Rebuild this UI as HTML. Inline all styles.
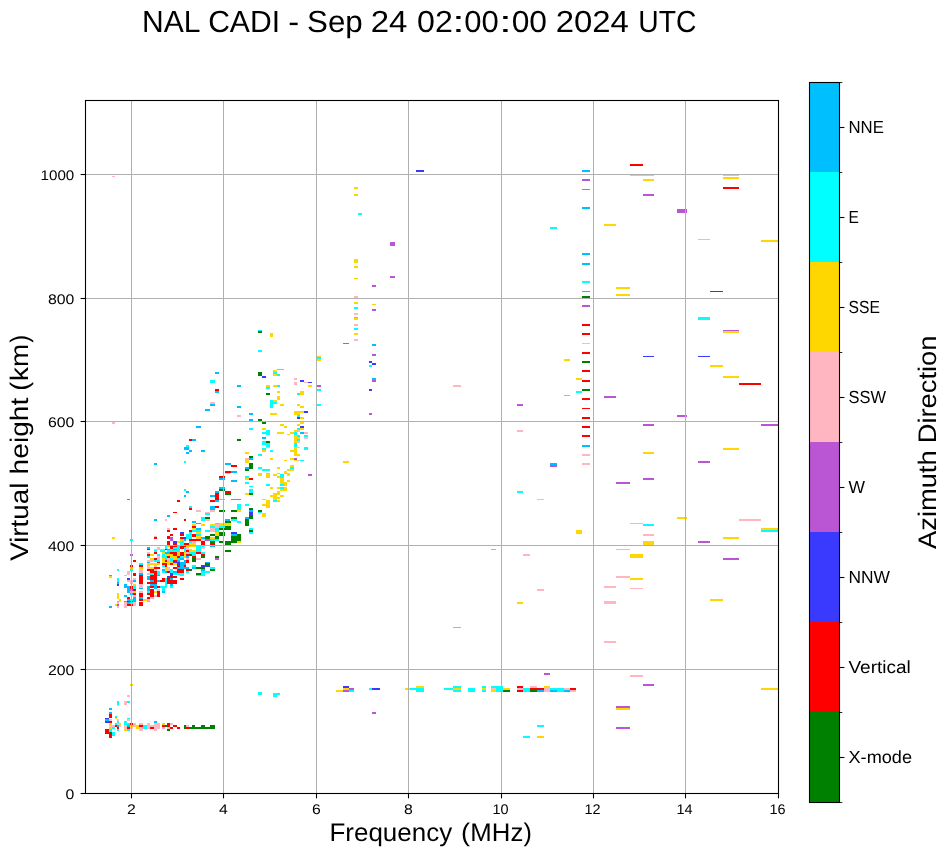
<!DOCTYPE html>
<html><head><meta charset="utf-8"><title>NAL CADI - Sep 24 02:00:00 2024 UTC</title>
<style>
html,body{margin:0;padding:0;background:#fff;}
body{width:951px;height:856px;overflow:hidden;font-family:"Liberation Sans",sans-serif;}
svg{display:block;will-change:transform;}
svg text{font-family:"Liberation Sans",sans-serif;fill:#000;filter:grayscale(1);text-rendering:geometricPrecision;}
</style></head>
<body>
<svg width="951" height="856" viewBox="0 0 951 856">
<rect x="0" y="0" width="951" height="856" fill="#ffffff"/>
<g id="data" shape-rendering="crispEdges">
<rect x="416" y="170" width="8.2" height="2" fill="#3a3aff"/>
<rect x="354" y="187" width="4" height="2" fill="#ffd700"/>
<rect x="354" y="194" width="4" height="2" fill="#ffd700"/>
<rect x="358" y="213" width="4" height="2" fill="#00ffff"/>
<rect x="390" y="242" width="5.2" height="4" fill="#ba55d3"/>
<rect x="354" y="259" width="4" height="4" fill="#ffd700"/>
<rect x="354" y="266" width="4" height="2" fill="#ffd700"/>
<rect x="390" y="276" width="5.2" height="2" fill="#ba55d3"/>
<rect x="354" y="278" width="4" height="1" fill="#ffd700"/>
<rect x="372" y="285" width="4" height="2" fill="#ba55d3"/>
<rect x="354" y="296" width="4" height="2" fill="#ffb6c1"/>
<rect x="354" y="302" width="4" height="2" fill="#ffd700"/>
<rect x="372" y="304" width="4" height="1" fill="#ffd700"/>
<rect x="354" y="307" width="4" height="2" fill="#00ffff"/>
<rect x="372" y="309" width="4" height="2" fill="#ba55d3"/>
<rect x="354" y="313" width="4" height="2" fill="#ffb6c1"/>
<rect x="354" y="317" width="4" height="1" fill="#00ffff"/>
<rect x="354" y="318" width="4" height="2" fill="#ffd700"/>
<rect x="354" y="324" width="4" height="2" fill="#ffb6c1"/>
<rect x="354" y="328" width="4" height="2" fill="#00ffff"/>
<rect x="354" y="333" width="4" height="2" fill="#ffd700"/>
<rect x="354" y="339" width="4" height="2" fill="#ffb6c1"/>
<rect x="343" y="343" width="6" height="1" fill="#ba55d3"/>
<rect x="372" y="344" width="4" height="2" fill="#00bfff"/>
<rect x="372" y="354" width="4" height="2" fill="#ba55d3"/>
<rect x="317" y="356" width="4" height="1" fill="#ffd700"/>
<rect x="317" y="357" width="4" height="2" fill="#00ffff"/>
<rect x="317" y="359" width="4" height="2" fill="#ffd700"/>
<rect x="369" y="361" width="3" height="2" fill="#3a3aff"/>
<rect x="372" y="363" width="4" height="2" fill="#3a3aff"/>
<rect x="369" y="365" width="3" height="2" fill="#00ffff"/>
<rect x="372" y="378" width="4" height="2" fill="#00bfff"/>
<rect x="372" y="380" width="4" height="2" fill="#ba55d3"/>
<rect x="309" y="382" width="3" height="1" fill="#3a3aff"/>
<rect x="309" y="385" width="3" height="2" fill="#ffd700"/>
<rect x="317" y="385" width="4" height="2" fill="#ba55d3"/>
<rect x="453" y="385" width="8" height="2" fill="#ffb6c1"/>
<rect x="317" y="389" width="4" height="2" fill="#00ffff"/>
<rect x="369" y="389" width="3" height="2" fill="#3a3aff"/>
<rect x="317" y="404" width="4" height="2" fill="#00ffff"/>
<rect x="369" y="413" width="3" height="2" fill="#ba55d3"/>
<rect x="343" y="461" width="6" height="2" fill="#ffd700"/>
<rect x="309" y="474" width="3" height="2" fill="#ba55d3"/>
<rect x="453" y="627" width="8" height="1" fill="#00ffff"/>
<rect x="343" y="686" width="6" height="2" fill="#3a3aff"/>
<rect x="343" y="688" width="6" height="2" fill="#ffd700"/>
<rect x="349" y="688" width="5" height="2" fill="#ba55d3"/>
<rect x="336" y="690" width="7" height="2" fill="#ffd700"/>
<rect x="343" y="690" width="6" height="2" fill="#ba55d3"/>
<rect x="349" y="690" width="5" height="2" fill="#00ffff"/>
<rect x="369" y="688" width="3" height="2" fill="#00ffff"/>
<rect x="372" y="688" width="8" height="2" fill="#3a3aff"/>
<rect x="372" y="712" width="4" height="2" fill="#ba55d3"/>
<rect x="405" y="688" width="5" height="2" fill="#ffd700"/>
<rect x="410" y="688" width="6" height="2" fill="#00ffff"/>
<rect x="416" y="686" width="8" height="2" fill="#ffd700"/>
<rect x="416" y="688" width="8" height="4" fill="#00ffff"/>
<rect x="444" y="688" width="9" height="2" fill="#00ffff"/>
<rect x="453" y="686" width="8" height="2" fill="#00ffff"/>
<rect x="453" y="688" width="8" height="2" fill="#ffd700"/>
<rect x="453" y="690" width="8" height="2" fill="#00ffff"/>
<rect x="468" y="688" width="7" height="4" fill="#00ffff"/>
<rect x="482" y="686" width="4" height="2" fill="#00ffff"/>
<rect x="482" y="688" width="4" height="2" fill="#ffd700"/>
<rect x="482" y="690" width="4" height="2" fill="#00ffff"/>
<rect x="517" y="602" width="6" height="2" fill="#ffd700"/>
<rect x="604.1" y="601" width="12" height="3" fill="#ffb6c1"/>
<rect x="604.1" y="641" width="12" height="2" fill="#ffb6c1"/>
<rect x="544" y="673" width="6" height="2" fill="#ba55d3"/>
<rect x="630" y="675" width="13" height="2" fill="#ffb6c1"/>
<rect x="643" y="684" width="11" height="2" fill="#ba55d3"/>
<rect x="491" y="686" width="12" height="6" fill="#00ffff"/>
<rect x="491" y="688" width="5" height="2" fill="#ffb6c1"/>
<rect x="491" y="690" width="5" height="2" fill="#ffd700"/>
<rect x="503" y="688" width="7" height="2" fill="#ffd700"/>
<rect x="503" y="690" width="7" height="2" fill="#008000"/>
<rect x="517" y="686" width="6" height="2" fill="#ff0000"/>
<rect x="517" y="688" width="6" height="2" fill="#ffb6c1"/>
<rect x="517" y="690" width="6" height="2" fill="#ff0000"/>
<rect x="523" y="688" width="7" height="4" fill="#00ffff"/>
<rect x="530" y="686" width="7" height="2" fill="#ffb6c1"/>
<rect x="530" y="688" width="14" height="2" fill="#ff0000"/>
<rect x="530" y="690" width="7" height="2" fill="#008000"/>
<rect x="537" y="690" width="7" height="2" fill="#00bfff"/>
<rect x="544" y="686" width="6" height="2" fill="#ffd700"/>
<rect x="544" y="688" width="6" height="4" fill="#ffb6c1"/>
<rect x="550" y="688" width="14" height="2" fill="#00ffff"/>
<rect x="550" y="690" width="7" height="2" fill="#00bfff"/>
<rect x="557" y="690" width="7" height="2" fill="#00ffff"/>
<rect x="564" y="688" width="6" height="2" fill="#ffb6c1"/>
<rect x="564" y="690" width="6" height="2" fill="#00bfff"/>
<rect x="570" y="688" width="6" height="2" fill="#ff0000"/>
<rect x="570" y="690" width="6" height="2" fill="#ffb6c1"/>
<rect x="616" y="706" width="14" height="2" fill="#ba55d3"/>
<rect x="616" y="708" width="14" height="2" fill="#ffd700"/>
<rect x="537" y="725" width="7" height="2" fill="#00ffff"/>
<rect x="616" y="727" width="14" height="2" fill="#ba55d3"/>
<rect x="523" y="736" width="7" height="2" fill="#00ffff"/>
<rect x="537" y="736" width="7" height="2" fill="#ffd700"/>
<rect x="517" y="430" width="6" height="2" fill="#ffb6c1"/>
<rect x="582" y="435" width="8" height="2" fill="#ff0000"/>
<rect x="582" y="445" width="8" height="2" fill="#00bfff"/>
<rect x="582" y="454" width="8" height="2" fill="#ffb6c1"/>
<rect x="582" y="463" width="8" height="2" fill="#ffb6c1"/>
<rect x="550" y="463" width="7" height="2" fill="#00bfff"/>
<rect x="550" y="465" width="7" height="2" fill="#ba55d3"/>
<rect x="643" y="452" width="11" height="2" fill="#ffd700"/>
<rect x="643" y="478" width="11" height="2" fill="#ba55d3"/>
<rect x="616" y="482" width="14" height="2" fill="#ba55d3"/>
<rect x="517" y="491" width="6" height="2" fill="#00ffff"/>
<rect x="537" y="499" width="7" height="1" fill="#ffb6c1"/>
<rect x="630" y="523" width="13" height="1" fill="#ffd700"/>
<rect x="643" y="524" width="11" height="2" fill="#00ffff"/>
<rect x="576" y="530" width="6" height="4" fill="#ffd700"/>
<rect x="643" y="534" width="11" height="2" fill="#ffb6c1"/>
<rect x="643" y="541" width="11" height="4" fill="#ffd700"/>
<rect x="491" y="549" width="5" height="1" fill="#00ffff"/>
<rect x="616" y="549" width="14" height="1" fill="#ffd700"/>
<rect x="523" y="554" width="7" height="2" fill="#ffb6c1"/>
<rect x="630" y="554" width="13" height="4" fill="#ffd700"/>
<rect x="616" y="576" width="14" height="2" fill="#ffb6c1"/>
<rect x="630" y="578" width="13" height="2" fill="#ffd700"/>
<rect x="604" y="586" width="12" height="2" fill="#ffb6c1"/>
<rect x="630" y="588" width="13" height="1" fill="#ffb6c1"/>
<rect x="537" y="589" width="7" height="2" fill="#ffb6c1"/>
<rect x="582" y="263" width="8" height="2" fill="#00bfff"/>
<rect x="582" y="281" width="8" height="2" fill="#00ffff"/>
<rect x="582" y="291" width="8" height="1" fill="#00bfff"/>
<rect x="582" y="296" width="8" height="2" fill="#008000"/>
<rect x="616" y="287" width="14" height="2" fill="#ffd700"/>
<rect x="616" y="294" width="14" height="2" fill="#ffd700"/>
<rect x="582" y="305" width="8" height="2" fill="#ba55d3"/>
<rect x="582" y="324" width="8" height="2" fill="#ff0000"/>
<rect x="582" y="333" width="8" height="2" fill="#ff0000"/>
<rect x="582" y="343" width="8" height="1" fill="#ffb6c1"/>
<rect x="582" y="352" width="8" height="2" fill="#ff0000"/>
<rect x="643" y="356" width="11" height="1" fill="#3a3aff"/>
<rect x="564" y="359" width="6" height="2" fill="#ffd700"/>
<rect x="582" y="361" width="8" height="2" fill="#008000"/>
<rect x="582" y="370" width="8" height="2" fill="#ff0000"/>
<rect x="576" y="378" width="6" height="2" fill="#ffd700"/>
<rect x="582" y="380" width="8" height="2" fill="#ff0000"/>
<rect x="582" y="389" width="8" height="2" fill="#008000"/>
<rect x="576" y="391" width="6" height="2" fill="#00ffff"/>
<rect x="564" y="395" width="6" height="1" fill="#00ffff"/>
<rect x="604" y="396" width="12" height="2" fill="#ba55d3"/>
<rect x="582" y="398" width="8" height="2" fill="#ff0000"/>
<rect x="517" y="404" width="6" height="2" fill="#ba55d3"/>
<rect x="582" y="408" width="8" height="1" fill="#ff0000"/>
<rect x="582" y="417" width="8" height="2" fill="#ff0000"/>
<rect x="643" y="424" width="11" height="2" fill="#ba55d3"/>
<rect x="582" y="426" width="8" height="2" fill="#ff0000"/>
<rect x="630" y="164" width="13" height="2" fill="#ff0000"/>
<rect x="582" y="170" width="8" height="2" fill="#00bfff"/>
<rect x="630" y="174" width="24" height="2" fill="#ffd700"/>
<rect x="582" y="179" width="8" height="2" fill="#ba55d3"/>
<rect x="643" y="179" width="11" height="2" fill="#ffd700"/>
<rect x="582" y="189" width="8" height="1" fill="#00bfff"/>
<rect x="643" y="194" width="11" height="2" fill="#ba55d3"/>
<rect x="582" y="207" width="8" height="2" fill="#00bfff"/>
<rect x="604" y="224" width="12" height="2" fill="#ffd700"/>
<rect x="550" y="227" width="7" height="2" fill="#00ffff"/>
<rect x="582" y="253" width="8" height="2" fill="#00bfff"/>
<rect x="723" y="174" width="16" height="2" fill="#ffd700"/>
<rect x="723" y="177" width="16" height="2" fill="#ffd700"/>
<rect x="723" y="187" width="16" height="2" fill="#ff0000"/>
<rect x="677" y="209" width="10" height="4" fill="#ba55d3"/>
<rect x="698" y="239" width="12" height="1" fill="#ffd700"/>
<rect x="761" y="240" width="17.5" height="2" fill="#ffd700"/>
<rect x="710" y="291" width="13" height="1" fill="#ff0000"/>
<rect x="698" y="317" width="12" height="3" fill="#00ffff"/>
<rect x="723" y="330" width="16" height="1" fill="#ba55d3"/>
<rect x="723" y="331" width="16" height="2" fill="#ffd700"/>
<rect x="698" y="356" width="12" height="1" fill="#3a3aff"/>
<rect x="710" y="365" width="13" height="2" fill="#ffd700"/>
<rect x="723" y="376" width="16" height="2" fill="#ffd700"/>
<rect x="739" y="383" width="22" height="2" fill="#ff0000"/>
<rect x="677" y="415" width="10" height="2" fill="#ba55d3"/>
<rect x="761" y="424" width="17.5" height="2" fill="#ba55d3"/>
<rect x="723" y="448" width="16" height="2" fill="#ffd700"/>
<rect x="698" y="461" width="12" height="2" fill="#ba55d3"/>
<rect x="677" y="517" width="10" height="2" fill="#ffd700"/>
<rect x="739" y="519" width="22" height="2" fill="#ffb6c1"/>
<rect x="761" y="528" width="17.5" height="2" fill="#ffd700"/>
<rect x="761" y="530" width="17.5" height="2" fill="#00ffff"/>
<rect x="723" y="537" width="16" height="2" fill="#ffd700"/>
<rect x="698" y="541" width="12" height="2" fill="#ba55d3"/>
<rect x="723" y="558" width="16" height="2" fill="#ba55d3"/>
<rect x="710" y="599" width="13" height="2" fill="#ffd700"/>
<rect x="761" y="688" width="17.5" height="2" fill="#ffd700"/>
<rect x="112" y="176" width="3" height="1" fill="#ffb6c1"/>
<rect x="258" y="330" width="4" height="1" fill="#00ffff"/>
<rect x="258" y="331" width="4" height="2" fill="#008000"/>
<rect x="270" y="333" width="3" height="4" fill="#ffd700"/>
<rect x="258" y="350" width="4" height="2" fill="#00ffff"/>
<rect x="277" y="369" width="7" height="1" fill="#00ffff"/>
<rect x="273" y="370" width="4" height="2" fill="#ffd700"/>
<rect x="273" y="372" width="4" height="2" fill="#00ffff"/>
<rect x="273" y="374" width="4" height="2" fill="#ffd700"/>
<rect x="277" y="374" width="3" height="2" fill="#00ffff"/>
<rect x="215" y="372" width="4" height="2" fill="#00bfff"/>
<rect x="258" y="372" width="4" height="4" fill="#008000"/>
<rect x="262" y="376" width="4" height="2" fill="#3a3aff"/>
<rect x="294" y="378" width="3" height="2" fill="#ffb6c1"/>
<rect x="300" y="380" width="4" height="2" fill="#3a3aff"/>
<rect x="304" y="382" width="4" height="1" fill="#ffb6c1"/>
<rect x="308" y="382" width="4" height="1" fill="#3a3aff"/>
<rect x="294" y="382" width="3" height="3" fill="#ffb6c1"/>
<rect x="210" y="380" width="5" height="3" fill="#00ffff"/>
<rect x="237" y="385" width="4" height="2" fill="#00bfff"/>
<rect x="266" y="385" width="4" height="2" fill="#ffd700"/>
<rect x="266" y="387" width="4" height="2" fill="#00ffff"/>
<rect x="273" y="385" width="4" height="2" fill="#ffd700"/>
<rect x="277" y="385" width="3" height="2" fill="#00ffff"/>
<rect x="308" y="385" width="4" height="2" fill="#ffd700"/>
<rect x="215" y="389" width="4" height="2" fill="#ff0000"/>
<rect x="215" y="391" width="4" height="2" fill="#00bfff"/>
<rect x="277" y="391" width="3" height="2" fill="#ffd700"/>
<rect x="266" y="393" width="4" height="2" fill="#008000"/>
<rect x="297" y="393" width="3" height="2" fill="#00ffff"/>
<rect x="300" y="391" width="4" height="4" fill="#ffd700"/>
<rect x="277" y="396" width="3" height="4" fill="#ffd700"/>
<rect x="270" y="400" width="3" height="8" fill="#00ffff"/>
<rect x="273" y="402" width="4" height="2" fill="#00ffff"/>
<rect x="273" y="400" width="4" height="2" fill="#ffd700"/>
<rect x="210" y="402" width="5" height="2" fill="#ffb6c1"/>
<rect x="210" y="404" width="5" height="2" fill="#00bfff"/>
<rect x="280" y="404" width="4" height="2" fill="#ffd700"/>
<rect x="297" y="404" width="3" height="2" fill="#ffd700"/>
<rect x="300" y="406" width="4" height="2" fill="#ffd700"/>
<rect x="237" y="406" width="4" height="2" fill="#00bfff"/>
<rect x="205" y="409" width="5" height="2" fill="#00bfff"/>
<rect x="294" y="411" width="6" height="4" fill="#ffd700"/>
<rect x="300" y="411" width="4" height="2" fill="#ffd700"/>
<rect x="304" y="411" width="4" height="2" fill="#3a3aff"/>
<rect x="249" y="413" width="4" height="2" fill="#00bfff"/>
<rect x="270" y="413" width="7" height="2" fill="#ffd700"/>
<rect x="237" y="415" width="4" height="2" fill="#ffb6c1"/>
<rect x="297" y="415" width="3" height="2" fill="#00ffff"/>
<rect x="297" y="417" width="3" height="2" fill="#3a3aff"/>
<rect x="300" y="417" width="4" height="2" fill="#ffd700"/>
<rect x="249" y="419" width="4" height="2" fill="#00bfff"/>
<rect x="258" y="419" width="4" height="2" fill="#008000"/>
<rect x="262" y="422" width="4" height="2" fill="#008000"/>
<rect x="300" y="422" width="4" height="2" fill="#ffd700"/>
<rect x="280" y="424" width="4" height="2" fill="#ffd700"/>
<rect x="284" y="426" width="3" height="2" fill="#ffd700"/>
<rect x="297" y="424" width="3" height="2" fill="#ffd700"/>
<rect x="300" y="426" width="4" height="2" fill="#3a3aff"/>
<rect x="196" y="426" width="5" height="2" fill="#00bfff"/>
<rect x="249" y="428" width="4" height="2" fill="#00ffff"/>
<rect x="262" y="428" width="4" height="2" fill="#ffd700"/>
<rect x="297" y="428" width="3" height="2" fill="#00ffff"/>
<rect x="300" y="428" width="4" height="2" fill="#ffd700"/>
<rect x="262" y="432" width="4" height="2" fill="#00ffff"/>
<rect x="266" y="430" width="4" height="5" fill="#00ffff"/>
<rect x="277" y="432" width="7" height="2" fill="#ffd700"/>
<rect x="287" y="434" width="3" height="1" fill="#ffd700"/>
<rect x="290" y="432" width="4" height="2" fill="#ffd700"/>
<rect x="294" y="430" width="3" height="2" fill="#ffd700"/>
<rect x="294" y="432" width="3" height="3" fill="#00ffff"/>
<rect x="297" y="430" width="3" height="2" fill="#ffb6c1"/>
<rect x="300" y="432" width="4" height="2" fill="#00bfff"/>
<rect x="304" y="432" width="4" height="2" fill="#ffb6c1"/>
<rect x="294" y="435" width="3" height="2" fill="#ffd700"/>
<rect x="304" y="435" width="4" height="2" fill="#00ffff"/>
<rect x="237" y="439" width="4" height="2" fill="#008000"/>
<rect x="262" y="437" width="4" height="2" fill="#00bfff"/>
<rect x="262" y="441" width="4" height="4" fill="#00ffff"/>
<rect x="266" y="441" width="4" height="2" fill="#008000"/>
<rect x="266" y="443" width="4" height="4" fill="#00ffff"/>
<rect x="266" y="447" width="4" height="1" fill="#ffd700"/>
<rect x="262" y="448" width="4" height="2" fill="#00ffff"/>
<rect x="262" y="450" width="4" height="2" fill="#ffd700"/>
<rect x="270" y="450" width="3" height="2" fill="#00ffff"/>
<rect x="294" y="435" width="3" height="8" fill="#ffd700"/>
<rect x="297" y="435" width="3" height="2" fill="#00ffff"/>
<rect x="297" y="437" width="3" height="2" fill="#ffd700"/>
<rect x="297" y="439" width="3" height="2" fill="#00ffff"/>
<rect x="297" y="441" width="3" height="2" fill="#ffb6c1"/>
<rect x="304" y="435" width="4" height="2" fill="#00ffff"/>
<rect x="304" y="437" width="4" height="2" fill="#ffb6c1"/>
<rect x="294" y="443" width="3" height="4" fill="#00ffff"/>
<rect x="297" y="447" width="3" height="1" fill="#ffb6c1"/>
<rect x="304" y="447" width="4" height="3" fill="#00ffff"/>
<rect x="294" y="447" width="3" height="9" fill="#ffd700"/>
<rect x="290" y="450" width="4" height="2" fill="#ffd700"/>
<rect x="297" y="454" width="3" height="2" fill="#ffd700"/>
<rect x="245" y="452" width="4" height="2" fill="#ffd700"/>
<rect x="258" y="454" width="4" height="2" fill="#00ffff"/>
<rect x="249" y="456" width="4" height="2" fill="#008000"/>
<rect x="245" y="458" width="4" height="2" fill="#ffb6c1"/>
<rect x="249" y="458" width="4" height="2" fill="#00bfff"/>
<rect x="245" y="460" width="4" height="3" fill="#ffd700"/>
<rect x="270" y="458" width="3" height="2" fill="#ffd700"/>
<rect x="284" y="460" width="3" height="1" fill="#ffd700"/>
<rect x="290" y="458" width="4" height="2" fill="#ffd700"/>
<rect x="294" y="458" width="3" height="2" fill="#ba55d3"/>
<rect x="294" y="460" width="3" height="1" fill="#ffd700"/>
<rect x="297" y="460" width="3" height="1" fill="#ffb6c1"/>
<rect x="300" y="460" width="4" height="1" fill="#00ffff"/>
<rect x="249" y="463" width="4" height="6" fill="#008000"/>
<rect x="230" y="463" width="1" height="2" fill="#00bfff"/>
<rect x="231" y="465" width="6" height="2" fill="#ff0000"/>
<rect x="245" y="467" width="4" height="2" fill="#00bfff"/>
<rect x="245" y="469" width="4" height="2" fill="#008000"/>
<rect x="258" y="467" width="4" height="2" fill="#00ffff"/>
<rect x="262" y="469" width="8" height="2" fill="#00ffff"/>
<rect x="277" y="467" width="3" height="2" fill="#ffd700"/>
<rect x="290" y="465" width="4" height="2" fill="#ffd700"/>
<rect x="290" y="467" width="4" height="2" fill="#00ffff"/>
<rect x="287" y="469" width="7" height="2" fill="#ffd700"/>
<rect x="230" y="471" width="1" height="2" fill="#ff0000"/>
<rect x="231" y="471" width="6" height="2" fill="#00bfff"/>
<rect x="284" y="471" width="3" height="3" fill="#ffd700"/>
<rect x="287" y="473" width="3" height="3" fill="#ffd700"/>
<rect x="258" y="473" width="4" height="3" fill="#ffd700"/>
<rect x="266" y="473" width="4" height="5" fill="#ffd700"/>
<rect x="273" y="474" width="4" height="2" fill="#ffd700"/>
<rect x="277" y="473" width="3" height="1" fill="#ffd700"/>
<rect x="277" y="476" width="3" height="2" fill="#ffd700"/>
<rect x="280" y="474" width="4" height="4" fill="#00ffff"/>
<rect x="308" y="474" width="4" height="2" fill="#ba55d3"/>
<rect x="245" y="476" width="4" height="2" fill="#00ffff"/>
<rect x="245" y="478" width="4" height="2" fill="#ffd700"/>
<rect x="249" y="478" width="4" height="2" fill="#ff0000"/>
<rect x="231" y="480" width="6" height="2" fill="#00bfff"/>
<rect x="280" y="478" width="4" height="6" fill="#ffd700"/>
<rect x="287" y="480" width="3" height="2" fill="#ffd700"/>
<rect x="284" y="482" width="3" height="4" fill="#ffd700"/>
<rect x="245" y="482" width="4" height="2" fill="#00ffff"/>
<rect x="266" y="484" width="4" height="2" fill="#00ffff"/>
<rect x="280" y="484" width="4" height="2" fill="#00ffff"/>
<rect x="249" y="486" width="4" height="1" fill="#00ffff"/>
<rect x="270" y="487" width="3" height="2" fill="#ffd700"/>
<rect x="277" y="487" width="3" height="2" fill="#ffd700"/>
<rect x="280" y="487" width="4" height="2" fill="#00ffff"/>
<rect x="284" y="487" width="3" height="4" fill="#ffd700"/>
<rect x="280" y="489" width="4" height="2" fill="#ffd700"/>
<rect x="249" y="489" width="4" height="4" fill="#00ffff"/>
<rect x="230" y="491" width="1" height="2" fill="#ff0000"/>
<rect x="230" y="493" width="1" height="2" fill="#008000"/>
<rect x="245" y="493" width="4" height="2" fill="#ffd700"/>
<rect x="249" y="493" width="4" height="2" fill="#008000"/>
<rect x="277" y="491" width="3" height="4" fill="#ffd700"/>
<rect x="273" y="493" width="4" height="7" fill="#ffd700"/>
<rect x="270" y="495" width="3" height="2" fill="#ffd700"/>
<rect x="280" y="495" width="4" height="2" fill="#ffd700"/>
<rect x="277" y="497" width="3" height="2" fill="#ffd700"/>
<rect x="231" y="499" width="10" height="1" fill="#00bfff"/>
<rect x="262" y="499" width="4" height="1" fill="#ffd700"/>
<rect x="273" y="500" width="4" height="2" fill="#00ffff"/>
<rect x="277" y="500" width="3" height="2" fill="#ffd700"/>
<rect x="266" y="500" width="4" height="8" fill="#ffd700"/>
<rect x="262" y="504" width="4" height="2" fill="#ffd700"/>
<rect x="237" y="504" width="4" height="6" fill="#00ffff"/>
<rect x="245" y="504" width="4" height="2" fill="#00ffff"/>
<rect x="249" y="508" width="4" height="2" fill="#008000"/>
<rect x="249" y="510" width="4" height="2" fill="#00bfff"/>
<rect x="249" y="512" width="4" height="3" fill="#3a3aff"/>
<rect x="249" y="515" width="4" height="4" fill="#008000"/>
<rect x="231" y="510" width="6" height="2" fill="#008000"/>
<rect x="237" y="510" width="4" height="2" fill="#ffd700"/>
<rect x="258" y="510" width="4" height="2" fill="#008000"/>
<rect x="258" y="512" width="4" height="1" fill="#00ffff"/>
<rect x="262" y="513" width="4" height="4" fill="#ffd700"/>
<rect x="231" y="517" width="6" height="2" fill="#008000"/>
<rect x="231" y="519" width="6" height="2" fill="#00ffff"/>
<rect x="245" y="517" width="4" height="2" fill="#00bfff"/>
<rect x="245" y="519" width="4" height="2" fill="#008000"/>
<rect x="189" y="439" width="3" height="2" fill="#ff0000"/>
<rect x="192" y="439" width="4" height="2" fill="#00bfff"/>
<rect x="186" y="445" width="3" height="2" fill="#00ffff"/>
<rect x="184" y="447" width="5" height="3" fill="#00bfff"/>
<rect x="189" y="450" width="3" height="2" fill="#00bfff"/>
<rect x="186" y="452" width="3" height="2" fill="#00bfff"/>
<rect x="201" y="450" width="4" height="2" fill="#00bfff"/>
<rect x="184" y="461" width="2" height="2" fill="#00ffff"/>
<rect x="154" y="463" width="3" height="2" fill="#00bfff"/>
<rect x="225" y="463" width="5" height="2" fill="#00bfff"/>
<rect x="225" y="471" width="5" height="2" fill="#ff0000"/>
<rect x="225" y="473" width="5" height="1" fill="#ffb6c1"/>
<rect x="219" y="476" width="6" height="2" fill="#ff0000"/>
<rect x="219" y="478" width="6" height="2" fill="#00bfff"/>
<rect x="219" y="487" width="6" height="2" fill="#00bfff"/>
<rect x="219" y="489" width="6" height="2" fill="#008000"/>
<rect x="225" y="491" width="5" height="2" fill="#ff0000"/>
<rect x="225" y="493" width="5" height="2" fill="#008000"/>
<rect x="184" y="489" width="2" height="2" fill="#00ffff"/>
<rect x="186" y="491" width="3" height="2" fill="#00bfff"/>
<rect x="184" y="495" width="2" height="2" fill="#00bfff"/>
<rect x="215" y="491" width="4" height="2" fill="#00bfff"/>
<rect x="215" y="493" width="4" height="7" fill="#ff0000"/>
<rect x="215" y="500" width="4" height="2" fill="#00bfff"/>
<rect x="210" y="495" width="5" height="2" fill="#00bfff"/>
<rect x="210" y="500" width="5" height="2" fill="#ff0000"/>
<rect x="219" y="499" width="6" height="1" fill="#00ffff"/>
<rect x="177" y="500" width="3" height="2" fill="#ff0000"/>
<rect x="189" y="506" width="3" height="2" fill="#00ffff"/>
<rect x="189" y="508" width="3" height="2" fill="#ff0000"/>
<rect x="210" y="506" width="5" height="4" fill="#00bfff"/>
<rect x="215" y="506" width="4" height="2" fill="#ff0000"/>
<rect x="210" y="510" width="5" height="2" fill="#ffb6c1"/>
<rect x="219" y="510" width="6" height="2" fill="#008000"/>
<rect x="196" y="510" width="5" height="2" fill="#ffb6c1"/>
<rect x="173" y="512" width="4" height="1" fill="#ff0000"/>
<rect x="205" y="512" width="5" height="1" fill="#ffb6c1"/>
<rect x="205" y="513" width="5" height="2" fill="#00ffff"/>
<rect x="167" y="515" width="3" height="2" fill="#00bfff"/>
<rect x="201" y="517" width="4" height="4" fill="#00ffff"/>
<rect x="205" y="517" width="5" height="2" fill="#008000"/>
<rect x="205" y="519" width="5" height="2" fill="#ffb6c1"/>
<rect x="154" y="519" width="3" height="2" fill="#00bfff"/>
<rect x="165" y="519" width="2" height="2" fill="#ffb6c1"/>
<rect x="184" y="519" width="2" height="2" fill="#ff0000"/>
<rect x="225" y="519" width="5" height="2" fill="#00bfff"/>
<rect x="225" y="521" width="6" height="2" fill="#008000"/>
<rect x="224" y="523" width="7" height="3" fill="#ffd700"/>
<rect x="224" y="526" width="7" height="4" fill="#008000"/>
<rect x="237" y="521" width="4" height="2" fill="#00ffff"/>
<rect x="245" y="521" width="4" height="5" fill="#008000"/>
<rect x="249" y="528" width="4" height="2" fill="#00ffff"/>
<rect x="249" y="530" width="4" height="2" fill="#008000"/>
<rect x="249" y="532" width="4" height="2" fill="#00ffff"/>
<rect x="219" y="532" width="6" height="4" fill="#008000"/>
<rect x="231" y="532" width="6" height="2" fill="#3a3aff"/>
<rect x="231" y="534" width="6" height="2" fill="#00bfff"/>
<rect x="237" y="534" width="4" height="7" fill="#008000"/>
<rect x="231" y="536" width="6" height="7" fill="#008000"/>
<rect x="237" y="541" width="4" height="2" fill="#ffd700"/>
<rect x="219" y="541" width="4" height="2" fill="#008000"/>
<rect x="225" y="541" width="6" height="4" fill="#008000"/>
<rect x="225" y="550" width="6" height="2" fill="#008000"/>
<rect x="201" y="524" width="4" height="2" fill="#ffd700"/>
<rect x="210" y="524" width="5" height="2" fill="#ffd700"/>
<rect x="215" y="523" width="4" height="1" fill="#00ffff"/>
<rect x="215" y="524" width="4" height="4" fill="#ffb6c1"/>
<rect x="219" y="523" width="4" height="1" fill="#ffb6c1"/>
<rect x="219" y="524" width="4" height="2" fill="#ffd700"/>
<rect x="210" y="526" width="5" height="2" fill="#00ffff"/>
<rect x="219" y="526" width="6" height="2" fill="#00ffff"/>
<rect x="219" y="528" width="4" height="2" fill="#008000"/>
<rect x="210" y="528" width="5" height="4" fill="#ffb6c1"/>
<rect x="215" y="528" width="4" height="4" fill="#00ffff"/>
<rect x="196" y="528" width="5" height="2" fill="#00bfff"/>
<rect x="195" y="530" width="6" height="2" fill="#00ffff"/>
<rect x="205" y="530" width="5" height="2" fill="#00ffff"/>
<rect x="196" y="532" width="5" height="2" fill="#ffd700"/>
<rect x="196" y="534" width="5" height="2" fill="#00ffff"/>
<rect x="215" y="532" width="4" height="4" fill="#ffd700"/>
<rect x="210" y="534" width="5" height="2" fill="#008000"/>
<rect x="196" y="536" width="5" height="3" fill="#ffd700"/>
<rect x="201" y="537" width="4" height="2" fill="#00bfff"/>
<rect x="205" y="536" width="5" height="3" fill="#008000"/>
<rect x="210" y="537" width="5" height="2" fill="#ffd700"/>
<rect x="215" y="536" width="4" height="3" fill="#008000"/>
<rect x="195" y="539" width="6" height="2" fill="#ff0000"/>
<rect x="201" y="539" width="4" height="2" fill="#ffb6c1"/>
<rect x="205" y="539" width="5" height="2" fill="#ba55d3"/>
<rect x="210" y="539" width="9" height="2" fill="#00ffff"/>
<rect x="201" y="541" width="4" height="4" fill="#ff0000"/>
<rect x="210" y="541" width="5" height="2" fill="#008000"/>
<rect x="210" y="543" width="5" height="2" fill="#ff0000"/>
<rect x="210" y="545" width="5" height="2" fill="#00bfff"/>
<rect x="195" y="543" width="1" height="2" fill="#ffd700"/>
<rect x="196" y="545" width="5" height="7" fill="#00ffff"/>
<rect x="201" y="545" width="4" height="2" fill="#00ffff"/>
<rect x="201" y="547" width="4" height="2" fill="#ffb6c1"/>
<rect x="196" y="552" width="5" height="2" fill="#ff0000"/>
<rect x="201" y="552" width="4" height="2" fill="#00ffff"/>
<rect x="201" y="554" width="4" height="2" fill="#ff0000"/>
<rect x="201" y="556" width="4" height="2" fill="#008000"/>
<rect x="196" y="558" width="5" height="2" fill="#ffb6c1"/>
<rect x="195" y="558" width="1" height="4" fill="#008000"/>
<rect x="215" y="556" width="4" height="2" fill="#008000"/>
<rect x="215" y="558" width="4" height="2" fill="#ba55d3"/>
<rect x="205" y="562" width="5" height="1" fill="#00bfff"/>
<rect x="205" y="563" width="5" height="2" fill="#008000"/>
<rect x="201" y="565" width="9" height="2" fill="#3a3aff"/>
<rect x="196" y="567" width="9" height="2" fill="#008000"/>
<rect x="210" y="567" width="5" height="2" fill="#00ffff"/>
<rect x="201" y="569" width="4" height="2" fill="#00bfff"/>
<rect x="210" y="569" width="5" height="2" fill="#008000"/>
<rect x="201" y="571" width="9" height="2" fill="#00ffff"/>
<rect x="201" y="573" width="4" height="3" fill="#00ffff"/>
<rect x="196" y="573" width="5" height="2" fill="#008000"/>
<rect x="196" y="575" width="5" height="1" fill="#00ffff"/>
<rect x="195" y="565" width="1" height="4" fill="#00ffff"/>
<rect x="109" y="575" width="3" height="1" fill="#00bfff"/>
<rect x="109" y="576" width="3" height="2" fill="#ffd700"/>
<rect x="112" y="537" width="3" height="2" fill="#ffd700"/>
<rect x="117" y="569" width="2" height="2" fill="#00ffff"/>
<rect x="117" y="578" width="2" height="4" fill="#00ffff"/>
<rect x="117" y="582" width="2" height="2" fill="#00bfff"/>
<rect x="117" y="584" width="2" height="2" fill="#3a3aff"/>
<rect x="117" y="593" width="2" height="6" fill="#ffd700"/>
<rect x="117" y="601" width="2" height="1" fill="#00ffff"/>
<rect x="119" y="599" width="2" height="3" fill="#ffd700"/>
<rect x="115" y="604" width="2" height="2" fill="#ffd700"/>
<rect x="117" y="604" width="2" height="2" fill="#ba55d3"/>
<rect x="117" y="602" width="2" height="2" fill="#ffb6c1"/>
<rect x="117" y="606" width="2" height="2" fill="#ffb6c1"/>
<rect x="109" y="606" width="3" height="2" fill="#00bfff"/>
<rect x="124" y="575" width="3" height="1" fill="#ffd700"/>
<rect x="124" y="584" width="3" height="4" fill="#00bfff"/>
<rect x="124" y="595" width="3" height="2" fill="#00bfff"/>
<rect x="124" y="602" width="3" height="6" fill="#ffb6c1"/>
<rect x="127" y="571" width="3" height="4" fill="#ffb6c1"/>
<rect x="127" y="578" width="3" height="2" fill="#3a3aff"/>
<rect x="127" y="580" width="3" height="2" fill="#ffb6c1"/>
<rect x="127" y="586" width="3" height="7" fill="#00bfff"/>
<rect x="127" y="597" width="3" height="2" fill="#ff0000"/>
<rect x="127" y="599" width="3" height="5" fill="#00bfff"/>
<rect x="127" y="604" width="3" height="2" fill="#ff0000"/>
<rect x="130" y="539" width="3" height="2" fill="#00ffff"/>
<rect x="130" y="554" width="3" height="2" fill="#ba55d3"/>
<rect x="130" y="565" width="3" height="2" fill="#ff0000"/>
<rect x="130" y="567" width="3" height="2" fill="#ffd700"/>
<rect x="130" y="569" width="3" height="2" fill="#00ffff"/>
<rect x="130" y="580" width="3" height="4" fill="#ffb6c1"/>
<rect x="130" y="586" width="3" height="3" fill="#ff0000"/>
<rect x="130" y="589" width="3" height="2" fill="#ba55d3"/>
<rect x="130" y="591" width="3" height="2" fill="#ffb6c1"/>
<rect x="130" y="593" width="3" height="2" fill="#00bfff"/>
<rect x="130" y="599" width="3" height="5" fill="#00bfff"/>
<rect x="130" y="604" width="3" height="2" fill="#ff0000"/>
<rect x="133" y="560" width="3" height="2" fill="#ff0000"/>
<rect x="133" y="573" width="3" height="3" fill="#ff0000"/>
<rect x="133" y="578" width="3" height="2" fill="#ffb6c1"/>
<rect x="133" y="580" width="3" height="2" fill="#00bfff"/>
<rect x="133" y="584" width="3" height="2" fill="#ffd700"/>
<rect x="133" y="586" width="3" height="3" fill="#00ffff"/>
<rect x="133" y="589" width="3" height="2" fill="#ff0000"/>
<rect x="133" y="591" width="3" height="2" fill="#ffd700"/>
<rect x="133" y="593" width="3" height="2" fill="#ff0000"/>
<rect x="133" y="595" width="3" height="2" fill="#ffb6c1"/>
<rect x="133" y="597" width="3" height="5" fill="#00bfff"/>
<rect x="133" y="602" width="3" height="4" fill="#ffb6c1"/>
<rect x="139" y="563" width="4" height="2" fill="#00ffff"/>
<rect x="139" y="565" width="4" height="2" fill="#ff0000"/>
<rect x="139" y="567" width="4" height="2" fill="#ffd700"/>
<rect x="139" y="569" width="4" height="4" fill="#ffb6c1"/>
<rect x="139" y="573" width="4" height="2" fill="#00bfff"/>
<rect x="139" y="575" width="4" height="9" fill="#ff0000"/>
<rect x="139" y="584" width="4" height="4" fill="#ffb6c1"/>
<rect x="139" y="588" width="4" height="1" fill="#00bfff"/>
<rect x="139" y="591" width="4" height="2" fill="#ffb6c1"/>
<rect x="139" y="593" width="4" height="4" fill="#ff0000"/>
<rect x="139" y="597" width="4" height="2" fill="#00bfff"/>
<rect x="139" y="599" width="4" height="2" fill="#ff0000"/>
<rect x="139" y="602" width="4" height="4" fill="#ff0000"/>
<rect x="143" y="599" width="4" height="2" fill="#ffd700"/>
<rect x="147" y="601" width="3" height="1" fill="#00ffff"/>
<rect x="154" y="536" width="3" height="3" fill="#ff0000"/>
<rect x="167" y="528" width="3" height="2" fill="#ffb6c1"/>
<rect x="167" y="530" width="3" height="2" fill="#ff0000"/>
<rect x="167" y="536" width="3" height="3" fill="#ff0000"/>
<rect x="167" y="541" width="3" height="4" fill="#ff0000"/>
<rect x="170" y="534" width="3" height="2" fill="#ff0000"/>
<rect x="170" y="537" width="3" height="4" fill="#ba55d3"/>
<rect x="173" y="528" width="4" height="2" fill="#ff0000"/>
<rect x="173" y="541" width="4" height="2" fill="#3a3aff"/>
<rect x="173" y="543" width="4" height="2" fill="#ff0000"/>
<rect x="177" y="541" width="3" height="2" fill="#ffd700"/>
<rect x="180" y="532" width="4" height="2" fill="#3a3aff"/>
<rect x="180" y="534" width="4" height="2" fill="#ff0000"/>
<rect x="180" y="537" width="4" height="2" fill="#ff0000"/>
<rect x="180" y="539" width="4" height="2" fill="#ffd700"/>
<rect x="180" y="541" width="4" height="4" fill="#00ffff"/>
<rect x="184" y="537" width="2" height="2" fill="#3a3aff"/>
<rect x="184" y="543" width="2" height="2" fill="#ff0000"/>
<rect x="186" y="534" width="6" height="5" fill="#00ffff"/>
<rect x="186" y="543" width="3" height="2" fill="#ff0000"/>
<rect x="189" y="530" width="3" height="2" fill="#ff0000"/>
<rect x="189" y="532" width="3" height="4" fill="#00ffff"/>
<rect x="189" y="539" width="6" height="2" fill="#ff0000"/>
<rect x="189" y="541" width="3" height="2" fill="#00ffff"/>
<rect x="189" y="543" width="7" height="2" fill="#ffd700"/>
<rect x="192" y="521" width="4" height="2" fill="#00bfff"/>
<rect x="192" y="524" width="4" height="2" fill="#ffd700"/>
<rect x="192" y="526" width="4" height="2" fill="#ff0000"/>
<rect x="192" y="528" width="4" height="2" fill="#ffd700"/>
<rect x="192" y="530" width="4" height="2" fill="#00ffff"/>
<rect x="192" y="534" width="4" height="3" fill="#ff0000"/>
<rect x="192" y="541" width="4" height="2" fill="#ffb6c1"/>
<rect x="112" y="422" width="3" height="2" fill="#ffb6c1"/>
<rect x="127" y="499" width="3" height="1" fill="#ba55d3"/>
<rect x="130" y="684" width="3" height="2" fill="#ffd700"/>
<rect x="127" y="695" width="3" height="2" fill="#ffb6c1"/>
<rect x="117" y="701" width="2" height="4" fill="#00ffff"/>
<rect x="117" y="705" width="2" height="1" fill="#ffd700"/>
<rect x="124" y="701" width="3" height="4" fill="#ffb6c1"/>
<rect x="127" y="701" width="3" height="2" fill="#00ffff"/>
<rect x="109" y="708" width="3" height="2" fill="#00bfff"/>
<rect x="109" y="712" width="3" height="2" fill="#00bfff"/>
<rect x="109" y="714" width="3" height="4" fill="#ff0000"/>
<rect x="115" y="716" width="2" height="2" fill="#00ffff"/>
<rect x="115" y="718" width="2" height="1" fill="#ffd700"/>
<rect x="105" y="718" width="4" height="1" fill="#3a3aff"/>
<rect x="105" y="719" width="7" height="2" fill="#00bfff"/>
<rect x="105" y="721" width="4" height="2" fill="#3a3aff"/>
<rect x="109" y="719" width="3" height="2" fill="#ffb6c1"/>
<rect x="109" y="721" width="3" height="2" fill="#ff0000"/>
<rect x="127" y="718" width="3" height="1" fill="#00ffff"/>
<rect x="127" y="719" width="3" height="2" fill="#ffb6c1"/>
<rect x="117" y="719" width="2" height="2" fill="#ffb6c1"/>
<rect x="117" y="721" width="2" height="2" fill="#00ffff"/>
<rect x="124" y="721" width="3" height="4" fill="#00ffff"/>
<rect x="127" y="723" width="3" height="2" fill="#00ffff"/>
<rect x="109" y="723" width="3" height="2" fill="#ffd700"/>
<rect x="115" y="723" width="2" height="2" fill="#00ffff"/>
<rect x="117" y="723" width="2" height="2" fill="#ffb6c1"/>
<rect x="119" y="723" width="2" height="2" fill="#ffd700"/>
<rect x="130" y="723" width="3" height="2" fill="#ff0000"/>
<rect x="133" y="723" width="3" height="4" fill="#ffb6c1"/>
<rect x="139" y="723" width="4" height="2" fill="#ffb6c1"/>
<rect x="147" y="723" width="3" height="6" fill="#ffb6c1"/>
<rect x="154" y="721" width="3" height="2" fill="#00bfff"/>
<rect x="154" y="723" width="6" height="6" fill="#ffb6c1"/>
<rect x="154" y="729" width="3" height="2" fill="#ffb6c1"/>
<rect x="162" y="723" width="3" height="2" fill="#ffd700"/>
<rect x="167" y="723" width="3" height="4" fill="#ff0000"/>
<rect x="170" y="723" width="3" height="2" fill="#ffb6c1"/>
<rect x="109" y="725" width="6" height="2" fill="#ffb6c1"/>
<rect x="115" y="725" width="2" height="2" fill="#ff0000"/>
<rect x="117" y="725" width="2" height="2" fill="#00bfff"/>
<rect x="119" y="725" width="2" height="2" fill="#ffb6c1"/>
<rect x="124" y="725" width="3" height="4" fill="#ffb6c1"/>
<rect x="127" y="725" width="3" height="2" fill="#00bfff"/>
<rect x="130" y="725" width="3" height="2" fill="#ffd700"/>
<rect x="136" y="725" width="3" height="4" fill="#ffd700"/>
<rect x="139" y="725" width="4" height="2" fill="#ff0000"/>
<rect x="143" y="725" width="4" height="4" fill="#00ffff"/>
<rect x="150" y="725" width="4" height="2" fill="#ffb6c1"/>
<rect x="162" y="725" width="3" height="2" fill="#ff0000"/>
<rect x="165" y="725" width="2" height="2" fill="#008000"/>
<rect x="173" y="725" width="4" height="2" fill="#ff0000"/>
<rect x="184" y="725" width="2" height="4" fill="#008000"/>
<rect x="186" y="725" width="3" height="2" fill="#ffb6c1"/>
<rect x="192" y="725" width="3" height="4" fill="#008000"/>
<rect x="109" y="727" width="3" height="2" fill="#ffd700"/>
<rect x="112" y="727" width="3" height="2" fill="#00ffff"/>
<rect x="117" y="727" width="2" height="2" fill="#ff0000"/>
<rect x="127" y="727" width="3" height="2" fill="#ff0000"/>
<rect x="130" y="727" width="3" height="2" fill="#ffb6c1"/>
<rect x="139" y="727" width="4" height="4" fill="#ffb6c1"/>
<rect x="150" y="727" width="4" height="2" fill="#ff0000"/>
<rect x="162" y="727" width="3" height="2" fill="#ffb6c1"/>
<rect x="167" y="727" width="3" height="2" fill="#ffb6c1"/>
<rect x="170" y="727" width="3" height="2" fill="#ff0000"/>
<rect x="177" y="727" width="3" height="2" fill="#ff0000"/>
<rect x="186" y="727" width="3" height="2" fill="#ff0000"/>
<rect x="189" y="727" width="6" height="2" fill="#008000"/>
<rect x="105" y="729" width="4" height="5" fill="#ff0000"/>
<rect x="109" y="729" width="3" height="3" fill="#00ffff"/>
<rect x="117" y="729" width="2" height="2" fill="#00ffff"/>
<rect x="124" y="729" width="3" height="2" fill="#ffd700"/>
<rect x="127" y="729" width="3" height="2" fill="#00ffff"/>
<rect x="167" y="729" width="3" height="2" fill="#008000"/>
<rect x="109" y="732" width="3" height="2" fill="#008000"/>
<rect x="112" y="732" width="3" height="4" fill="#00ffff"/>
<rect x="109" y="734" width="3" height="4" fill="#ff0000"/>
<rect x="189" y="727" width="26" height="2" fill="#008000"/>
<rect x="201" y="725" width="4" height="2" fill="#008000"/>
<rect x="210" y="725" width="5" height="2" fill="#008000"/>
<rect x="258" y="692" width="4" height="3" fill="#00ffff"/>
<rect x="273" y="693" width="7" height="2" fill="#00ffff"/>
<rect x="273" y="695" width="4" height="2" fill="#00ffff"/>
<rect x="184" y="539" width="2" height="2" fill="#00bfff"/>
<rect x="154" y="536" width="3" height="1" fill="#ffb6c1"/>
<rect x="196" y="523" width="5" height="1" fill="#00bfff"/>
<rect x="130" y="599" width="3" height="2" fill="#00ffff"/>
<rect x="124" y="601" width="3" height="1" fill="#00bfff"/>
<rect x="127" y="601" width="3" height="1" fill="#3a3aff"/>
<rect x="130" y="601" width="3" height="1" fill="#ff0000"/>
<rect x="130" y="602" width="3" height="2" fill="#00ffff"/>
<rect x="147" y="599" width="3" height="2" fill="#ffb6c1"/>
<rect x="165" y="545" width="2" height="2" fill="#00ffff"/>
<rect x="167" y="545" width="3" height="2" fill="#ffd700"/>
<rect x="170" y="545" width="7" height="2" fill="#ff0000"/>
<rect x="177" y="545" width="3" height="2" fill="#00ffff"/>
<rect x="180" y="545" width="6" height="2" fill="#ff0000"/>
<rect x="186" y="545" width="10" height="2" fill="#ffd700"/>
<rect x="147" y="547" width="3" height="2" fill="#00bfff"/>
<rect x="157" y="547" width="3" height="2" fill="#ffb6c1"/>
<rect x="165" y="547" width="2" height="2" fill="#00ffff"/>
<rect x="170" y="547" width="3" height="2" fill="#ff0000"/>
<rect x="173" y="547" width="7" height="2" fill="#00ffff"/>
<rect x="180" y="547" width="4" height="2" fill="#ff0000"/>
<rect x="184" y="547" width="2" height="2" fill="#00ffff"/>
<rect x="186" y="547" width="3" height="2" fill="#ffb6c1"/>
<rect x="147" y="549" width="3" height="1" fill="#ff0000"/>
<rect x="154" y="549" width="3" height="1" fill="#ffb6c1"/>
<rect x="157" y="549" width="8" height="1" fill="#ffd700"/>
<rect x="165" y="549" width="2" height="1" fill="#ff0000"/>
<rect x="167" y="549" width="3" height="1" fill="#00bfff"/>
<rect x="170" y="549" width="3" height="1" fill="#00ffff"/>
<rect x="173" y="549" width="4" height="1" fill="#00bfff"/>
<rect x="177" y="549" width="3" height="1" fill="#00ffff"/>
<rect x="184" y="549" width="2" height="1" fill="#00ffff"/>
<rect x="186" y="549" width="3" height="1" fill="#ffb6c1"/>
<rect x="189" y="549" width="3" height="1" fill="#ffd700"/>
<rect x="154" y="550" width="3" height="2" fill="#00ffff"/>
<rect x="160" y="550" width="5" height="2" fill="#00ffff"/>
<rect x="167" y="550" width="13" height="2" fill="#00ffff"/>
<rect x="184" y="550" width="2" height="2" fill="#00ffff"/>
<rect x="186" y="550" width="3" height="2" fill="#ff0000"/>
<rect x="189" y="550" width="7" height="2" fill="#ffd700"/>
<rect x="147" y="552" width="3" height="2" fill="#ffb6c1"/>
<rect x="154" y="552" width="3" height="2" fill="#ff0000"/>
<rect x="162" y="552" width="3" height="2" fill="#ffd700"/>
<rect x="165" y="552" width="5" height="2" fill="#00bfff"/>
<rect x="170" y="552" width="7" height="2" fill="#ff0000"/>
<rect x="177" y="552" width="3" height="2" fill="#ffd700"/>
<rect x="180" y="552" width="4" height="2" fill="#ff0000"/>
<rect x="184" y="552" width="2" height="2" fill="#ffd700"/>
<rect x="186" y="552" width="3" height="2" fill="#ffb6c1"/>
<rect x="189" y="552" width="7" height="2" fill="#00ffff"/>
<rect x="147" y="554" width="3" height="2" fill="#ff0000"/>
<rect x="150" y="554" width="4" height="2" fill="#ffd700"/>
<rect x="157" y="554" width="3" height="2" fill="#00ffff"/>
<rect x="162" y="554" width="3" height="2" fill="#00ffff"/>
<rect x="165" y="554" width="8" height="2" fill="#ffd700"/>
<rect x="173" y="554" width="4" height="2" fill="#ff0000"/>
<rect x="177" y="554" width="3" height="2" fill="#ffd700"/>
<rect x="180" y="554" width="4" height="2" fill="#ff0000"/>
<rect x="184" y="554" width="2" height="2" fill="#ffd700"/>
<rect x="186" y="554" width="3" height="2" fill="#ff0000"/>
<rect x="189" y="554" width="3" height="2" fill="#008000"/>
<rect x="192" y="554" width="4" height="2" fill="#00ffff"/>
<rect x="147" y="556" width="3" height="2" fill="#00ffff"/>
<rect x="157" y="556" width="3" height="2" fill="#ffb6c1"/>
<rect x="162" y="556" width="5" height="2" fill="#00ffff"/>
<rect x="167" y="556" width="3" height="2" fill="#ff0000"/>
<rect x="170" y="556" width="7" height="2" fill="#ffd700"/>
<rect x="177" y="556" width="3" height="2" fill="#ff0000"/>
<rect x="180" y="556" width="4" height="2" fill="#00ffff"/>
<rect x="184" y="556" width="2" height="2" fill="#ffd700"/>
<rect x="186" y="556" width="3" height="2" fill="#00bfff"/>
<rect x="192" y="556" width="4" height="2" fill="#ff0000"/>
<rect x="150" y="558" width="4" height="2" fill="#ffd700"/>
<rect x="154" y="558" width="3" height="2" fill="#ff0000"/>
<rect x="157" y="558" width="3" height="2" fill="#ffb6c1"/>
<rect x="162" y="558" width="3" height="2" fill="#ffd700"/>
<rect x="165" y="558" width="2" height="2" fill="#00ffff"/>
<rect x="167" y="558" width="3" height="2" fill="#ffb6c1"/>
<rect x="170" y="558" width="3" height="2" fill="#00ffff"/>
<rect x="173" y="558" width="4" height="2" fill="#ffd700"/>
<rect x="177" y="558" width="3" height="2" fill="#00ffff"/>
<rect x="180" y="558" width="4" height="2" fill="#00bfff"/>
<rect x="186" y="558" width="3" height="2" fill="#ffb6c1"/>
<rect x="192" y="558" width="4" height="2" fill="#008000"/>
<rect x="147" y="560" width="7" height="2" fill="#ffb6c1"/>
<rect x="154" y="560" width="6" height="2" fill="#00ffff"/>
<rect x="162" y="560" width="3" height="2" fill="#ffd700"/>
<rect x="165" y="560" width="2" height="2" fill="#ff0000"/>
<rect x="167" y="560" width="3" height="2" fill="#ffb6c1"/>
<rect x="170" y="560" width="3" height="2" fill="#00ffff"/>
<rect x="173" y="560" width="4" height="2" fill="#ff0000"/>
<rect x="177" y="560" width="3" height="2" fill="#00bfff"/>
<rect x="184" y="560" width="2" height="2" fill="#00bfff"/>
<rect x="186" y="560" width="3" height="2" fill="#ff0000"/>
<rect x="192" y="560" width="4" height="2" fill="#008000"/>
<rect x="147" y="562" width="3" height="1" fill="#00bfff"/>
<rect x="157" y="562" width="3" height="1" fill="#ff0000"/>
<rect x="186" y="562" width="3" height="1" fill="#ff0000"/>
<rect x="162" y="562" width="11" height="1" fill="#ffd700"/>
<rect x="173" y="562" width="7" height="1" fill="#3a3aff"/>
<rect x="180" y="562" width="6" height="1" fill="#00bfff"/>
<rect x="147" y="563" width="13" height="2" fill="#ffd700"/>
<rect x="162" y="563" width="5" height="2" fill="#ff0000"/>
<rect x="167" y="563" width="3" height="2" fill="#ffd700"/>
<rect x="170" y="563" width="3" height="2" fill="#ff0000"/>
<rect x="173" y="563" width="4" height="2" fill="#ffd700"/>
<rect x="177" y="563" width="3" height="2" fill="#3a3aff"/>
<rect x="180" y="563" width="6" height="2" fill="#00bfff"/>
<rect x="147" y="565" width="3" height="2" fill="#ffb6c1"/>
<rect x="154" y="565" width="3" height="2" fill="#ffb6c1"/>
<rect x="162" y="565" width="3" height="2" fill="#00ffff"/>
<rect x="165" y="565" width="2" height="2" fill="#ff0000"/>
<rect x="177" y="565" width="3" height="2" fill="#ff0000"/>
<rect x="180" y="565" width="4" height="2" fill="#00bfff"/>
<rect x="184" y="565" width="2" height="2" fill="#ff0000"/>
<rect x="192" y="565" width="4" height="2" fill="#00ffff"/>
<rect x="147" y="567" width="3" height="2" fill="#ffb6c1"/>
<rect x="150" y="567" width="4" height="2" fill="#ffd700"/>
<rect x="154" y="567" width="6" height="2" fill="#ff0000"/>
<rect x="165" y="567" width="2" height="2" fill="#ffd700"/>
<rect x="167" y="567" width="3" height="2" fill="#ffb6c1"/>
<rect x="173" y="567" width="4" height="2" fill="#ff0000"/>
<rect x="177" y="567" width="12" height="2" fill="#00bfff"/>
<rect x="192" y="567" width="4" height="2" fill="#00bfff"/>
<rect x="147" y="569" width="7" height="2" fill="#ff0000"/>
<rect x="154" y="569" width="3" height="2" fill="#ffb6c1"/>
<rect x="162" y="569" width="3" height="2" fill="#00bfff"/>
<rect x="165" y="569" width="2" height="2" fill="#ffd700"/>
<rect x="167" y="569" width="3" height="2" fill="#ffb6c1"/>
<rect x="170" y="569" width="3" height="2" fill="#00ffff"/>
<rect x="177" y="569" width="7" height="2" fill="#ff0000"/>
<rect x="186" y="569" width="3" height="2" fill="#ff0000"/>
<rect x="189" y="569" width="3" height="2" fill="#008000"/>
<rect x="150" y="571" width="7" height="2" fill="#ff0000"/>
<rect x="157" y="571" width="3" height="2" fill="#00ffff"/>
<rect x="162" y="571" width="3" height="2" fill="#00ffff"/>
<rect x="165" y="571" width="2" height="2" fill="#00bfff"/>
<rect x="167" y="571" width="3" height="2" fill="#ff0000"/>
<rect x="170" y="571" width="3" height="2" fill="#00ffff"/>
<rect x="173" y="571" width="4" height="2" fill="#00bfff"/>
<rect x="177" y="571" width="7" height="2" fill="#ff0000"/>
<rect x="186" y="571" width="3" height="2" fill="#00ffff"/>
<rect x="147" y="573" width="3" height="2" fill="#ffb6c1"/>
<rect x="150" y="573" width="4" height="2" fill="#00ffff"/>
<rect x="154" y="573" width="3" height="2" fill="#ff0000"/>
<rect x="157" y="573" width="3" height="2" fill="#00ffff"/>
<rect x="170" y="573" width="3" height="2" fill="#3a3aff"/>
<rect x="173" y="573" width="11" height="2" fill="#00ffff"/>
<rect x="150" y="575" width="7" height="1" fill="#ff0000"/>
<rect x="157" y="575" width="3" height="1" fill="#00bfff"/>
<rect x="170" y="575" width="3" height="1" fill="#ff0000"/>
<rect x="180" y="575" width="4" height="1" fill="#00ffff"/>
<rect x="147" y="576" width="3" height="2" fill="#00bfff"/>
<rect x="150" y="576" width="7" height="2" fill="#ff0000"/>
<rect x="167" y="576" width="3" height="2" fill="#3a3aff"/>
<rect x="170" y="576" width="7" height="2" fill="#ff0000"/>
<rect x="147" y="578" width="3" height="2" fill="#00bfff"/>
<rect x="150" y="578" width="7" height="2" fill="#ff0000"/>
<rect x="162" y="578" width="3" height="2" fill="#ff0000"/>
<rect x="165" y="578" width="2" height="2" fill="#00ffff"/>
<rect x="167" y="578" width="3" height="2" fill="#ff0000"/>
<rect x="170" y="578" width="3" height="2" fill="#00bfff"/>
<rect x="180" y="578" width="4" height="2" fill="#ff0000"/>
<rect x="150" y="580" width="4" height="2" fill="#00bfff"/>
<rect x="154" y="580" width="3" height="2" fill="#ff0000"/>
<rect x="157" y="580" width="3" height="2" fill="#00bfff"/>
<rect x="160" y="580" width="5" height="2" fill="#ff0000"/>
<rect x="165" y="580" width="2" height="2" fill="#00ffff"/>
<rect x="167" y="580" width="10" height="2" fill="#ff0000"/>
<rect x="147" y="582" width="10" height="2" fill="#ff0000"/>
<rect x="165" y="582" width="2" height="2" fill="#00ffff"/>
<rect x="167" y="582" width="10" height="2" fill="#ff0000"/>
<rect x="150" y="584" width="7" height="2" fill="#00bfff"/>
<rect x="165" y="584" width="2" height="2" fill="#00ffff"/>
<rect x="170" y="584" width="3" height="2" fill="#00bfff"/>
<rect x="147" y="586" width="3" height="2" fill="#00bfff"/>
<rect x="150" y="586" width="4" height="2" fill="#ff0000"/>
<rect x="154" y="586" width="3" height="2" fill="#00bfff"/>
<rect x="157" y="586" width="3" height="2" fill="#ff0000"/>
<rect x="160" y="586" width="7" height="2" fill="#00ffff"/>
<rect x="170" y="586" width="3" height="2" fill="#00ffff"/>
<rect x="147" y="588" width="3" height="1" fill="#00bfff"/>
<rect x="154" y="588" width="3" height="1" fill="#00bfff"/>
<rect x="162" y="588" width="3" height="1" fill="#00ffff"/>
<rect x="147" y="589" width="3" height="2" fill="#00bfff"/>
<rect x="150" y="589" width="4" height="2" fill="#ff0000"/>
<rect x="157" y="589" width="3" height="2" fill="#ffb6c1"/>
<rect x="162" y="589" width="3" height="2" fill="#00ffff"/>
<rect x="147" y="591" width="3" height="2" fill="#00ffff"/>
<rect x="150" y="591" width="4" height="2" fill="#ff0000"/>
<rect x="154" y="591" width="3" height="2" fill="#ffd700"/>
<rect x="157" y="591" width="3" height="2" fill="#ff0000"/>
<rect x="162" y="591" width="3" height="2" fill="#00bfff"/>
<rect x="147" y="593" width="3" height="2" fill="#ff0000"/>
<rect x="150" y="593" width="4" height="2" fill="#ff0000"/>
<rect x="157" y="593" width="3" height="2" fill="#ff0000"/>
<rect x="150" y="595" width="4" height="2" fill="#ff0000"/>
<rect x="154" y="595" width="3" height="2" fill="#ffb6c1"/>
<rect x="157" y="595" width="3" height="2" fill="#ff0000"/>
<rect x="147" y="597" width="3" height="2" fill="#ff0000"/>
<rect x="150" y="597" width="4" height="2" fill="#ffb6c1"/>
</g>
<g id="grid" stroke="#b0b0b0" stroke-width="1" fill="none">
<line x1="131.50" y1="100.5" x2="131.50" y2="793.5"/>
<line x1="223.50" y1="100.5" x2="223.50" y2="793.5"/>
<line x1="316.50" y1="100.5" x2="316.50" y2="793.5"/>
<line x1="408.50" y1="100.5" x2="408.50" y2="793.5"/>
<line x1="501.50" y1="100.5" x2="501.50" y2="793.5"/>
<line x1="593.50" y1="100.5" x2="593.50" y2="793.5"/>
<line x1="685.50" y1="100.5" x2="685.50" y2="793.5"/>
<line x1="85.5" y1="669.50" x2="778.5" y2="669.50"/>
<line x1="85.5" y1="545.50" x2="778.5" y2="545.50"/>
<line x1="85.5" y1="421.50" x2="778.5" y2="421.50"/>
<line x1="85.5" y1="298.50" x2="778.5" y2="298.50"/>
<line x1="85.5" y1="174.50" x2="778.5" y2="174.50"/>
</g>
<g id="ticks" stroke="#000" stroke-width="1.1" fill="none">
<line x1="131.50" y1="793.5" x2="131.50" y2="798.40"/>
<line x1="223.50" y1="793.5" x2="223.50" y2="798.40"/>
<line x1="316.50" y1="793.5" x2="316.50" y2="798.40"/>
<line x1="408.50" y1="793.5" x2="408.50" y2="798.40"/>
<line x1="501.50" y1="793.5" x2="501.50" y2="798.40"/>
<line x1="593.50" y1="793.5" x2="593.50" y2="798.40"/>
<line x1="685.50" y1="793.5" x2="685.50" y2="798.40"/>
<line x1="778.50" y1="793.5" x2="778.50" y2="798.40"/>
<line x1="80.60" y1="793.50" x2="85.5" y2="793.50"/>
<line x1="80.60" y1="669.50" x2="85.5" y2="669.50"/>
<line x1="80.60" y1="545.50" x2="85.5" y2="545.50"/>
<line x1="80.60" y1="421.50" x2="85.5" y2="421.50"/>
<line x1="80.60" y1="298.50" x2="85.5" y2="298.50"/>
<line x1="80.60" y1="174.50" x2="85.5" y2="174.50"/>
</g>
<rect x="85.5" y="100.5" width="693.0" height="693.0" fill="none" stroke="#000" stroke-width="1.1"/>
<g id="xticklabels" font-size="14" text-anchor="middle">
<text x="131.30" y="814.2" textLength="8.8" lengthAdjust="spacingAndGlyphs">2</text>
<text x="223.30" y="814.2" textLength="8.8" lengthAdjust="spacingAndGlyphs">4</text>
<text x="316.30" y="814.2" textLength="8.8" lengthAdjust="spacingAndGlyphs">6</text>
<text x="408.30" y="814.2" textLength="8.8" lengthAdjust="spacingAndGlyphs">8</text>
<text x="500.50" y="814.2" textLength="16.1" lengthAdjust="spacingAndGlyphs">10</text>
<text x="592.50" y="814.2" textLength="16.1" lengthAdjust="spacingAndGlyphs">12</text>
<text x="684.50" y="814.2" textLength="16.1" lengthAdjust="spacingAndGlyphs">14</text>
<text x="777.50" y="814.2" textLength="16.1" lengthAdjust="spacingAndGlyphs">16</text>
</g>
<g id="yticklabels" font-size="14" text-anchor="end">
<text x="74.3" y="798.60" textLength="8.8" lengthAdjust="spacingAndGlyphs">0</text>
<text x="74.3" y="674.60" textLength="26.4" lengthAdjust="spacingAndGlyphs">200</text>
<text x="74.3" y="550.60" textLength="26.4" lengthAdjust="spacingAndGlyphs">400</text>
<text x="74.3" y="426.60" textLength="26.4" lengthAdjust="spacingAndGlyphs">600</text>
<text x="74.3" y="303.60" textLength="26.4" lengthAdjust="spacingAndGlyphs">800</text>
<text x="74.3" y="179.60" textLength="33.7" lengthAdjust="spacingAndGlyphs">1000</text>
</g>
<g id="title" font-size="30.5">
<text x="142.01" y="32" textLength="58.48" lengthAdjust="spacingAndGlyphs">NAL</text>
<text x="208.13" y="32" textLength="71.91" lengthAdjust="spacingAndGlyphs">CADI</text>
<text x="288.27" y="32" textLength="10.91" lengthAdjust="spacingAndGlyphs">-</text>
<text x="307.02" y="32" textLength="55.69" lengthAdjust="spacingAndGlyphs">Sep</text>
<text x="370.73" y="32" textLength="36.68" lengthAdjust="spacingAndGlyphs">24</text>
<text x="417.06" y="32" textLength="35.79" lengthAdjust="spacingAndGlyphs">02</text>
<text x="452.33" y="32" textLength="12.34" lengthAdjust="spacingAndGlyphs">:</text>
<text x="464.23" y="32" textLength="34.54" lengthAdjust="spacingAndGlyphs">00</text>
<text x="499.11" y="32" textLength="12.81" lengthAdjust="spacingAndGlyphs">:</text>
<text x="511.71" y="32" textLength="35.35" lengthAdjust="spacingAndGlyphs">00</text>
<text x="555.66" y="32" textLength="73.20" lengthAdjust="spacingAndGlyphs">2024</text>
<text x="638.29" y="32" textLength="58.09" lengthAdjust="spacingAndGlyphs">UTC</text>
</g>
<g id="xlabel" font-size="25.4">
<text x="329.44" y="840.5" textLength="122.68" lengthAdjust="spacingAndGlyphs">Frequency</text>
<text x="461.02" y="840.5" textLength="9.09" lengthAdjust="spacingAndGlyphs">(</text>
<text x="470.38" y="840.5" textLength="53.02" lengthAdjust="spacingAndGlyphs">MHz</text>
<text x="523.57" y="840.5" textLength="8.43" lengthAdjust="spacingAndGlyphs">)</text>
</g>
<g id="ylabel" font-size="25.4" transform="translate(28.0 1000) rotate(-90)">
<text x="439.15" y="0" textLength="78.22" lengthAdjust="spacingAndGlyphs">Virtual</text>
<text x="525.52" y="0" textLength="76.84" lengthAdjust="spacingAndGlyphs">height</text>
<text x="609.37" y="0" textLength="9.01" lengthAdjust="spacingAndGlyphs">(</text>
<text x="619.14" y="0" textLength="37.04" lengthAdjust="spacingAndGlyphs">km</text>
<text x="657.32" y="0" textLength="7.87" lengthAdjust="spacingAndGlyphs">)</text>
</g>
<g id="cblabel" font-size="25.4" transform="translate(936.1 1000) rotate(-90)">
<text x="451.14" y="0" textLength="98.48" lengthAdjust="spacingAndGlyphs">Azimuth</text>
<text x="556.76" y="0" textLength="107.60" lengthAdjust="spacingAndGlyphs">Direction</text>
</g>
<g id="colorbar">
<rect x="809.5" y="82.00" width="30.0" height="90.30" fill="#00bfff" shape-rendering="crispEdges"/>
<rect x="809.5" y="172.00" width="30.0" height="90.30" fill="#00ffff" shape-rendering="crispEdges"/>
<rect x="809.5" y="262.00" width="30.0" height="90.30" fill="#ffd700" shape-rendering="crispEdges"/>
<rect x="809.5" y="352.00" width="30.0" height="90.30" fill="#ffb6c1" shape-rendering="crispEdges"/>
<rect x="809.5" y="442.00" width="30.0" height="90.30" fill="#ba55d3" shape-rendering="crispEdges"/>
<rect x="809.5" y="532.00" width="30.0" height="90.30" fill="#3a3aff" shape-rendering="crispEdges"/>
<rect x="809.5" y="622.00" width="30.0" height="90.30" fill="#ff0000" shape-rendering="crispEdges"/>
<rect x="809.5" y="712.00" width="30.0" height="90.30" fill="#008000" shape-rendering="crispEdges"/>
<rect x="809.5" y="82.5" width="30.0" height="720.0" fill="none" stroke="#000" stroke-width="1.1"/>
<g stroke="#000" stroke-width="1.1">
<line x1="839.5" y1="82.50" x2="842.30" y2="82.50" stroke-width="0.85"/>
<line x1="839.5" y1="172.50" x2="842.30" y2="172.50" stroke-width="0.85"/>
<line x1="839.5" y1="262.50" x2="842.30" y2="262.50" stroke-width="0.85"/>
<line x1="839.5" y1="352.50" x2="842.30" y2="352.50" stroke-width="0.85"/>
<line x1="839.5" y1="442.50" x2="842.30" y2="442.50" stroke-width="0.85"/>
<line x1="839.5" y1="532.50" x2="842.30" y2="532.50" stroke-width="0.85"/>
<line x1="839.5" y1="622.50" x2="842.30" y2="622.50" stroke-width="0.85"/>
<line x1="839.5" y1="712.50" x2="842.30" y2="712.50" stroke-width="0.85"/>
<line x1="839.5" y1="802.50" x2="842.30" y2="802.50" stroke-width="0.85"/>
<line x1="839.5" y1="127.50" x2="844.40" y2="127.50"/>
<line x1="839.5" y1="217.50" x2="844.40" y2="217.50"/>
<line x1="839.5" y1="307.50" x2="844.40" y2="307.50"/>
<line x1="839.5" y1="397.50" x2="844.40" y2="397.50"/>
<line x1="839.5" y1="487.50" x2="844.40" y2="487.50"/>
<line x1="839.5" y1="577.50" x2="844.40" y2="577.50"/>
<line x1="839.5" y1="667.50" x2="844.40" y2="667.50"/>
<line x1="839.5" y1="757.50" x2="844.40" y2="757.50"/>
</g>
<g font-size="17.6" text-anchor="start">
<text x="848.5" y="133.00" textLength="35.4" lengthAdjust="spacingAndGlyphs">NNE</text>
<text x="848.5" y="223.00" textLength="10.4" lengthAdjust="spacingAndGlyphs">E</text>
<text x="848.5" y="313.00" textLength="31.4" lengthAdjust="spacingAndGlyphs">SSE</text>
<text x="848.5" y="403.00" textLength="37.5" lengthAdjust="spacingAndGlyphs">SSW</text>
<text x="848.5" y="493.00" textLength="16.5" lengthAdjust="spacingAndGlyphs">W</text>
<text x="848.5" y="583.00" textLength="41.5" lengthAdjust="spacingAndGlyphs">NNW</text>
<text x="848.5" y="673.00" textLength="62.3" lengthAdjust="spacingAndGlyphs">Vertical</text>
<text x="848.5" y="763.00" textLength="63.5" lengthAdjust="spacingAndGlyphs">X-mode</text>
</g>
</g>
</svg>
</body></html>
